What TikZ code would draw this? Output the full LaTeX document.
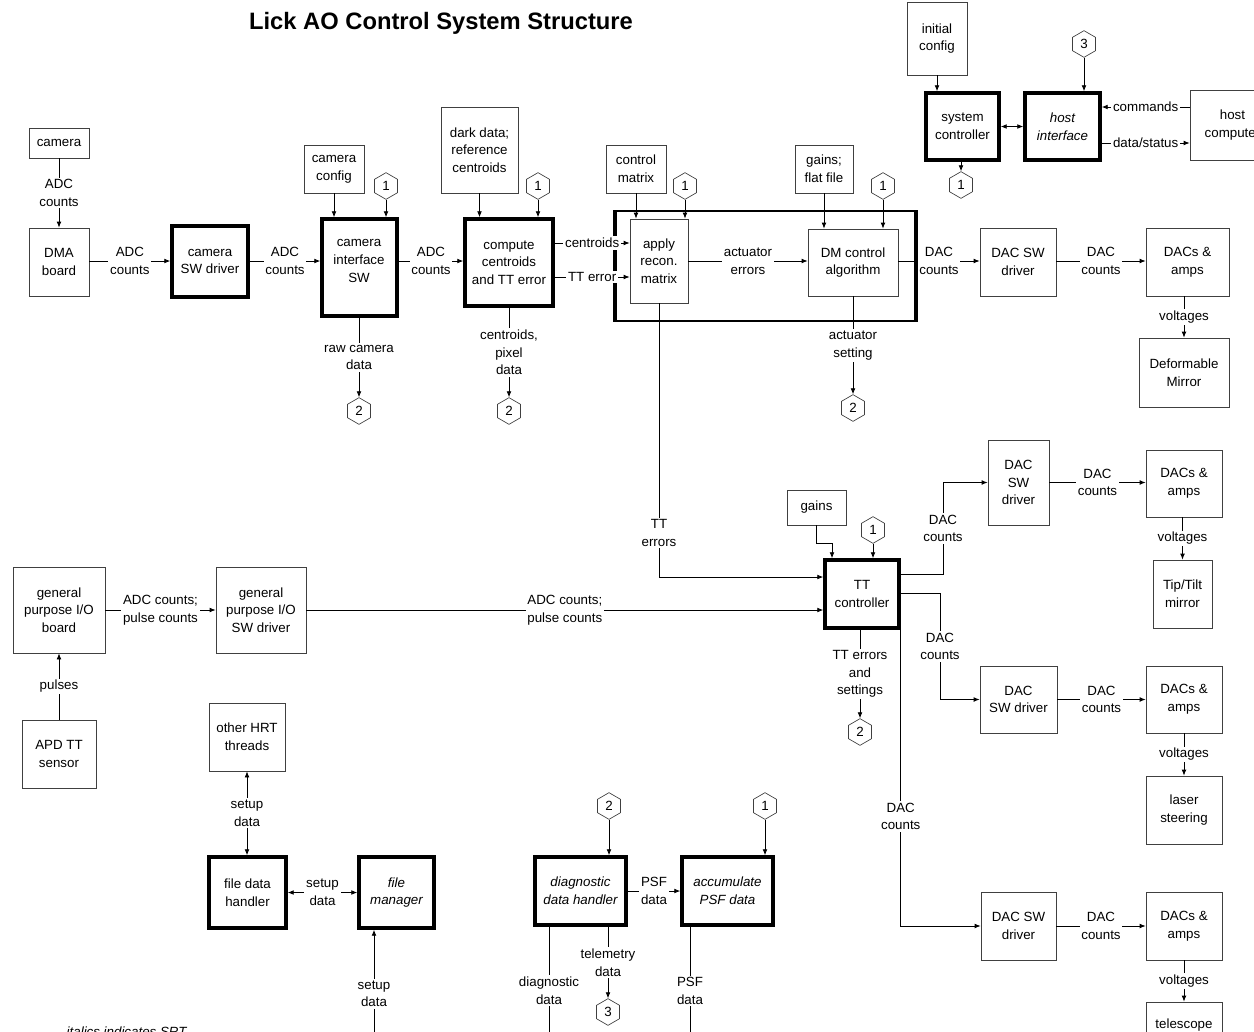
\documentclass[tikz,border=0pt]{standalone}
\usepackage{fontspec}
\setmainfont{Liberation Sans}
\usetikzlibrary{arrows.meta,shapes.geometric}
\newcommand\bx[7][]{\node[box,#1,minimum width={(#5-(#3))*0.75pt},minimum height={(#6-(#4))*0.75pt}] (#2) at ({(#3+#5)/2},{(#4+#6)/2}) {#7};}
\tikzset{
  box/.style={draw=black!75, line width=0.6pt, align=center, inner sep=1pt},
  tbox/.style={draw=black, line width=2.6pt},
  lbl/.style={fill=white, inner sep=1.3pt, align=center},
  arr/.style={-{Latex[length=4.5pt,width=3.6pt]}, line width=0.6pt},
  arrs/.style={{Latex[length=4.5pt,width=3.6pt]}-{Latex[length=4.5pt,width=3.6pt]}, line width=0.6pt},
  plain/.style={line width=0.6pt},
  conn/.style={draw=black!75, regular polygon, regular polygon sides=6, shape border rotate=90, minimum size=20pt, inner sep=0pt, line width=0.5pt}
}
\begin{document}
\fontsize{10}{13.2}\selectfont
\begin{tikzpicture}[x=0.75pt,y=-0.75pt]
\useasboundingbox (0,0) rectangle (1254,1032);
\clip (0,0) rectangle (1254,1032);
\fill[white] (0,0) rectangle (1254,1032);

\node[font=\bfseries\fontsize{17.8}{20}\selectfont] (title) at (441,23) {Lick AO Control System Structure};

% helper levels
\coordinate (row1) at (0,261);
\coordinate (ya) at (0,243);
\coordinate (yb) at (0,277);
\coordinate (yc) at (0,107);
\coordinate (yd) at (0,143);
\coordinate (ye) at (0,577);
\coordinate (yf) at (0,574);
\coordinate (yg) at (0,593);
\coordinate (xf) at (943,0);
\coordinate (xg) at (940,0);
\coordinate (g1) at (832,543);
\coordinate (fmb) at (374,1058);
\coordinate (ddhb) at (549,1055);
\coordinate (accb) at (690,1055);

% group box around reconstructor
\draw[line width=2pt] (615,211) -- (916,211);
\draw[line width=2pt] (615,321) -- (916,321);
\draw[line width=3pt] (916,210) -- (916,322);
\draw[line width=3pt] (615,210) -- (615,322);

% row 1 boxes
\bx{camera}{29}{128}{89}{158}{camera}
\bx{dma}{29}{228}{89}{296}{DMA\\board}
\bx[tbox]{camsw}{172}{226}{248}{297}{camera\\SW driver}
\bx{camcfg}{304}{145}{364}{193}{camera\\config}
\bx[tbox]{camif}{322}{219}{397}{316}{}
\node[align=center] (camift) at (359,261) {camera\\interface\\SW};
\bx{dark}{441}{107}{518}{193}{dark data;\\reference\\centroids}
\bx[tbox]{comp}{465}{219}{553}{306}{compute\\centroids\\and TT error}
\bx{ctrl}{606}{145}{666}{193}{control\\matrix}
\bx{apply}{630}{219}{688}{303}{apply\\recon.\\matrix}
\bx{gainsA}{795}{145}{853}{193}{gains;\\flat file}
\bx{dm}{808}{229}{898}{296}{DM control\\algorithm}
\bx{dacswA}{980}{228}{1056}{296}{DAC SW\\driver}
\bx{dacampA}{1146}{228}{1229}{296}{DACs \&\\amps}
\bx{dmirror}{1139}{338}{1229}{407}{Deformable\\Mirror}

% top right
\bx{init}{907}{2}{967}{75}{initial\\config}
\bx[tbox]{sysc}{926}{93}{999}{160}{system\\controller}
\bx[tbox,font=\itshape]{hosti}{1025}{93}{1100}{160}{host\\interface}
\bx{hostc}{1190}{90}{1275}{160}{host\\computer}

% middle right
\bx{gainsB}{787}{490}{846}{525}{gains}
\bx[tbox]{tt}{825}{560}{899}{628}{TT\\controller}
\bx{dacswB}{988}{440}{1049}{525}{DAC\\SW\\driver}
\bx{dacampB}{1146}{450}{1222}{517}{DACs \&\\amps}
\bx{tiptilt}{1153}{560}{1212}{628}{Tip/Tilt\\mirror}
\bx{dacswC}{980}{666}{1057}{733}{DAC\\SW driver}
\bx{dacampC}{1146}{666}{1222}{733}{DACs \&\\amps}
\bx{laser}{1146}{776}{1222}{844}{laser\\steering}
\bx{dacswD}{981}{892}{1056}{960}{DAC SW\\driver}
\bx{dacampD}{1146}{892}{1222}{960}{DACs \&\\amps}
\bx{tele}{1146}{1002}{1222}{1048}{telescope}

% left and bottom
\bx{gpio}{13}{567}{105}{653}{general\\purpose I/O\\board}
\bx{gpsw}{216}{567}{306}{653}{general\\purpose I/O\\SW driver}
\bx{apd}{22}{720}{96}{788}{APD TT\\sensor}
\bx{hrt}{209}{703}{285}{771}{other HRT\\threads}
\bx[tbox]{fdh}{209}{857}{286}{928}{file data\\handler}
\bx[tbox,font=\itshape]{fm}{359}{857}{434}{928}{file\\manager}
\bx[tbox,font=\itshape]{ddh}{535}{857}{626}{925}{diagnostic\\data handler}
\bx[tbox,font=\itshape]{acc}{682}{857}{773}{925}{accumulate\\PSF data}

% off-page connectors
\node[conn] (c1a) at (386,186) {1};
\node[conn] (c1b) at (538,186) {1};
\node[conn] (c1c) at (685,186) {1};
\node[conn] (c1d) at (883,186) {1};
\node[conn] (c1e) at (873,530) {1};
\node[conn] (c1f) at (961,185) {1};
\node[conn] (c1g) at (765,806) {1};
\node[conn] (c2a) at (359,411) {2};
\node[conn] (c2b) at (509,411) {2};
\node[conn] (c2c) at (853,408) {2};
\node[conn] (c2d) at (860,732) {2};
\node[conn] (c2e) at (609,806) {2};
\node[conn] (c3a) at (1084,44) {3};
\node[conn] (c3b) at (608,1012) {3};

% row 1 connectors
\draw[arr] (camera) -- node[lbl] (l1) {ADC\\counts} (dma);
\draw[arr] (dma.east |- row1) -- node[lbl] (l2) {ADC\\counts} (camsw.west |- row1);
\draw[arr] (camsw.east |- row1) -- node[lbl] (l3) {ADC\\counts} (camif.west |- row1);
\draw[arr] (camcfg.south) -- (camcfg.south |- camif.north);
\draw[arr] (c1a.south) -- (c1a.south |- camif.north);
\draw[arr] (camif.east |- row1) -- node[lbl] (l4) {ADC\\counts} (comp.west |- row1);
\draw[arr] (dark.south) -- (dark.south |- comp.north);
\draw[arr] (c1b.south) -- (c1b.south |- comp.north);
\draw[arr] (comp.east |- ya) -- node[lbl] (l5) {centroids} (apply.west |- ya);
\draw[arr] (comp.east |- yb) -- node[lbl] (l6) {TT error} (apply.west |- yb);
\draw[arr] (ctrl.south) -- (ctrl.south |- apply.north);
\draw[arr] (c1c.south) -- (c1c.south |- apply.north);
\draw[arr] (apply.east |- row1) -- node[lbl] (l7) {actuator\\errors} (dm.west |- row1);
\draw[arr] (gainsA.south) -- (gainsA.south |- dm.north);
\draw[arr] (c1d.south) -- (c1d.south |- dm.north);
\draw[arr] (dm.east |- row1) -- node[lbl] (l8) {DAC\\counts} (dacswA.west |- row1);
\draw[arr] (dacswA.east |- row1) -- node[lbl] (l9) {DAC\\counts} (dacampA.west |- row1);
\draw[arr] (dmirror.north |- dacampA.south) -- node[lbl] (l10) {voltages} (dmirror.north);
\draw[arr] (c2a.north |- camif.south) -- node[lbl] (l11) {raw camera\\data} (c2a.north);
\draw[arr] (c2b.north |- comp.south) -- node[lbl] (l12) {centroids,\\pixel\\data} (c2b.north);
\draw[arr] (c2c.north |- dm.south) -- node[lbl] (l13) {actuator\\setting} (c2c.north);

% top right connectors
\draw[arr] (init.south) -- (init.south |- sysc.north);
\draw[arr] (c3a.south) -- (c3a.south |- hosti.north);
\draw[arrs] (sysc.east) -- (hosti.west);
\draw[arr] (c1f.north |- sysc.south) -- (c1f.north);
\draw[arr] (hostc.west |- yc) -- node[lbl] (l14) {commands} (hosti.east |- yc);
\draw[arr] (hosti.east |- yd) -- node[lbl] (l15) {data/status} (hostc.west |- yd);

% TT section
\draw[arr] (apply.south) -- node[lbl,pos=0.84] (l16) {TT\\errors} (apply.south |- ye) -- (tt.west |- ye);
\draw[arr] (gainsB.south) |- (g1) -- (g1 |- tt.north);
\draw[arr] (c1e.south) -- (c1e.south |- tt.north);
\draw[arr] (gpsw.east) -- node[lbl] (l17) {ADC counts;\\pulse counts} (gpsw.east -| tt.west);
\draw[arr] (tt.east |- yf) -- (xf |- yf) -- node[lbl] (l18) {DAC\\counts} (xf |- dacswB.west) -- (dacswB.west);
\draw[arr] (dacswB.east) -- node[lbl] (l19) {DAC\\counts} (dacswB.east -| dacampB.west);
\draw[arr] (tiptilt.north |- dacampB.south) -- node[lbl] (l20) {voltages} (tiptilt.north);
\draw[arr] (tt.east |- yg) -- (xg |- yg) -- node[lbl] (l21) {DAC\\counts} (xg |- dacswC.west) -- (dacswC.west);
\draw[arr] (dacswC.east) -- node[lbl] (l22) {DAC\\counts} (dacswC.east -| dacampC.west);
\draw[arr] (laser.north |- dacampC.south) -- node[lbl] (l23) {voltages} (laser.north);
\draw[arr] (tt.south east) -- node[lbl,pos=0.63] (l24) {DAC\\counts} (tt.south east |- dacswD.west) -- (dacswD.west);
\draw[arr] (dacswD.east) -- node[lbl] (l25) {DAC\\counts} (dacswD.east -| dacampD.west);
\draw[arr] (tele.north |- dacampD.south) -- node[lbl] (l26) {voltages} (tele.north);
\draw[arr] (c2d.north |- tt.south) -- node[lbl] (l27) {TT errors\\and\\settings} (c2d.north);

% left and bottom connectors
\draw[arr] (apd.north) -- node[lbl] (l28) {pulses} (apd.north |- gpio.south);
\draw[arr] (gpio.east) -- node[lbl] (l29) {ADC counts;\\pulse counts} (gpio.east -| gpsw.west);
\draw[arrs] (hrt.south) -- node[lbl] (l30) {setup\\data} (hrt.south |- fdh.north);
\draw[arrs] (fdh.east) -- node[lbl] (l31) {setup\\data} (fdh.east -| fm.west);
\draw[arr] (fmb) -- node[lbl] (l32) {setup\\data} (fmb |- fm.south);
\draw[arr] (c2e.south) -- (c2e.south |- ddh.north);
\draw[arr] (ddh.east) -- node[lbl] (l33) {PSF\\data} (ddh.east -| acc.west);
\draw[arr] (c1g.south) -- (c1g.south |- acc.north);
\draw[plain] (ddhb |- ddh.south) -- node[lbl] (l34) {diagnostic\\data} (ddhb);
\draw[arr] (c3b.north |- ddh.south) -- node[lbl] (l35) {telemetry\\data} (c3b.north);
\draw[plain] (accb |- acc.south) -- node[lbl] (l36) {PSF\\data} (accb);

\node[anchor=north west, font=\itshape] (note) at (62,1022) {italics indicates SRT};
\end{tikzpicture}
\end{document}
